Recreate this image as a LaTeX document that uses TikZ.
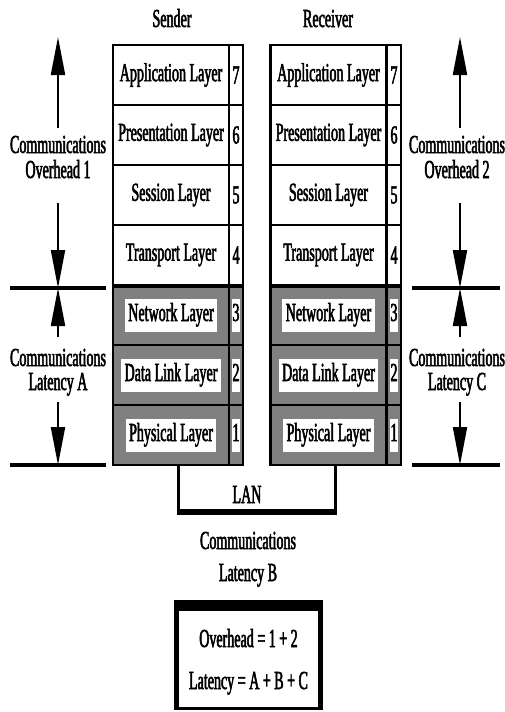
\documentclass[tikz,border=0pt]{standalone}
\usepackage{fontspec}
\setmainfont[FakeStretch=0.54,FakeBold=2]{Liberation Serif}
\usetikzlibrary{arrows.meta}
\definecolor{layergrey}{RGB}{128,128,128}
\begin{document}
\begin{tikzpicture}[x=1pt,y=-1pt,
  every node/.style={font=\fontsize{26}{30}\selectfont, inner sep=0pt},
  layer/.style={draw, line width=2.5pt, minimum width=116pt, minimum height=60pt},
  num/.style={draw, line width=2.5pt, minimum width=14pt, minimum height=60pt},
  low/.style={fill=layergrey},
  tag/.style={fill=white, inner xsep=3.5pt, inner ysep=4.5pt, text height=18pt, text depth=6pt},
  numtag/.style={fill=white, inner xsep=0.4pt, inner ysep=4.5pt, text height=18pt, text depth=6pt},
  dim/.style={line width=2pt, -{Triangle[width=14pt,length=38pt]}},
  tick/.style={line width=3.5pt},
  caption/.style={anchor=base},
  lan/.style={line width=3pt},
]
\useasboundingbox (0,0) rectangle (505,712);

% LAN connecting the bottoms of both stacks
\coordinate (sbase) at (178,465);
\coordinate (rbase) at (335,465);
\coordinate (lanL) at (178,512);
\coordinate (lanR) at (335,512);
\draw[lan] (sbase) -- (lanL);
\draw[lan] (rbase) -- (lanR);
\draw[line width=5.5pt] ([xshift=-1.5pt]lanL) -- ([xshift=1.5pt]lanR);
\node[caption] (lan) at (247,503) {LAN};

% column headings
\node[caption] (sender) at (172,27) {Sender};
\node[caption] (receiver) at (328,27) {Receiver};

% upper (white) layers
\foreach \n/\name in {7/Application,6/Presentation,5/Session,4/Transport} {
  \node[layer] (s\n) at (171,{75+60*(7-\n)}) {\name\ Layer};
  \node[num]   (sn\n) at (236,{75+60*(7-\n)}) {\n};
  \node[layer] (r\n) at (328.5,{75+60*(7-\n)}) {\name\ Layer};
  \node[num]   (rn\n) at (394,{75+60*(7-\n)}) {\n};
}
% lower (grey) layers
\foreach \n/\name in {3/Network,2/Data Link,1/Physical} {
  \node[layer,low] (s\n) at (171,{75+60*(7-\n)}) {};
  \node[tag] (st\n) at (s\n) {\name\ Layer};
  \node[num,low] (sn\n) at (236,{75+60*(7-\n)}) {};
  \node[numtag] (snt\n) at (sn\n) {\n};
  \node[layer,low] (r\n) at (328.5,{75+60*(7-\n)}) {};
  \node[tag] (rt\n) at (r\n) {\name\ Layer};
  \node[num,low] (rn\n) at (394,{75+60*(7-\n)}) {};
  \node[numtag] (rnt\n) at (rn\n) {\n};
}
\draw[line width=4pt] (s4.south west) -- (sn4.south east);
\draw[line width=4pt] (r4.south west) -- (rn4.south east);

% left dimension: overhead 1 and latency A
\node[caption] (oh1a) at (58,153) {Communications};
\node[caption] (oh1b) at (58,178) {Overhead 1};
\coordinate (oh1up) at (58,128);   \coordinate (oh1tip) at (58,37);
\coordinate (oh1dn) at (58,203);   \coordinate (lmid) at (58,288);
\draw[dim] (oh1up) -- (oh1tip);
\draw[dim] (oh1dn) -- (lmid);
\node[caption] (ltaa) at (58,366) {Communications};
\node[caption] (ltab) at (58,390) {Latency A};
\coordinate (ltaup) at (58,337);   \coordinate (ltadn) at (58,402);
\coordinate (lbot) at (58,465);
\draw[dim] (ltaup) -- (lmid);
\draw[dim] (ltadn) -- (lbot);
\coordinate (lt1a) at (10,288);  \coordinate (lt1b) at (106,288);
\coordinate (lt2a) at (10,465);  \coordinate (lt2b) at (106,465);
\draw[tick] (lt1a) -- (lt1b);
\draw[tick] (lt2a) -- (lt2b);

% right dimension: overhead 2 and latency C
\node[caption] (oh2a) at (457,153) {Communications};
\node[caption] (oh2b) at (457,178) {Overhead 2};
\coordinate (oh2up) at (460,128);  \coordinate (oh2tip) at (460,37);
\coordinate (oh2dn) at (460,203);  \coordinate (rmid) at (460,288);
\draw[dim] (oh2up) -- (oh2tip);
\draw[dim] (oh2dn) -- (rmid);
\node[caption] (ltca) at (457,366) {Communications};
\node[caption] (ltcb) at (457,390) {Latency C};
\coordinate (ltcup) at (460,337);  \coordinate (ltcdn) at (460,402);
\coordinate (rbot) at (460,465);
\draw[dim] (ltcup) -- (rmid);
\draw[dim] (ltcdn) -- (rbot);
\coordinate (rt1a) at (412,288);  \coordinate (rt1b) at (500,288);
\coordinate (rt2a) at (412,465);  \coordinate (rt2b) at (500,465);
\draw[tick] (rt1a) -- (rt1b);
\draw[tick] (rt2a) -- (rt2b);

% latency across the LAN
\node[caption] (ltba) at (248,549) {Communications};
\node[caption] (ltbb) at (248,581) {Latency B};

% summary box
\node[fill=black, minimum width=149pt, minimum height=110pt] (sumframe) at (248.5,655) {};
\node[fill=white, minimum width=139pt, minimum height=96pt] (sum) at (248.5,659) {};
\node[caption] (sumoh) at (248.5,647) {Overhead = 1 + 2};
\node[caption] (sumlt) at (248.5,689) {Latency = A + B + C};
\end{tikzpicture}
\end{document}
